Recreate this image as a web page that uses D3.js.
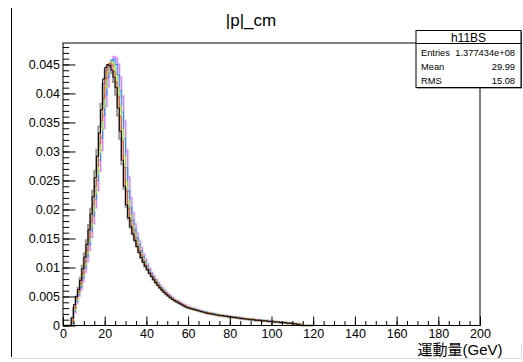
<!DOCTYPE html>
<html>
<head>
<meta charset="utf-8">
<script src="https://cdn.jsdelivr.net/npm/d3@7"></script>
<style>
  body { margin: 0; background: #fff; }
  text { font-family: "Liberation Sans", Arial, "Noto Sans CJK JP", sans-serif; fill: #000; }
</style>
</head>
<body>
<div id="chart"></div>
<script>
// |p|_cm histograms, 1 GeV bins starting at 0
const binWidth = 1;

const histBlack = [
  0, 0, 0, 0, .0013, .0036, .0050, .0062, .0078, .0098,
  .0118, .0140, .0165, .0192, .0222, .0255, .0292, .0332, .0372, .0425,
  .0445, .0450, .0448, .0440, .0428, .0410, .0375, .0335, .0285, .0240,
  .0208, .0186, .0170, .0158, .0147, .0136, .0126, .0117, .0109, .0102,
  .0096, .0090, .0084, .0079, .0074, .0069, .0065, .0061, .0057, .0054,
  .0051, .0048, .0045, .0043, .0041, .0039, .0037, .0035, .0033, .0031,
  .0030, .0029, .0028, .0027, .0026, .0025, .0024, .0023, .0022, .0021,
  .0020, .0020, .0019, .0018, .0018, .0017, .0017, .0016, .0016, .0015,
  .0015, .0014, .0014, .0013, .0013, .0012, .0012, .0011, .0011, .0010,
  .0010, .0010, .0009, .0009, .0009, .0008, .0008, .0008, .0007, .0007,
  .0007, .0006, .0006, .0006, .0005, .0005, .0005, .0004, .0004, .0004,
  .0003, .0003, .0002, .0001, 0, 0, 0, 0, 0, 0
];

const histGray = [
  0, 0, 0, 0, .0013, .0030, .0050, .0065, .0082, .0103,
  .0124, .0147, .0173, .0201, .0232, .0266, .0303, .0343, .0382, .0416,
  .0440, .0448, .0446, .0436, .0420, .0398, .0362, .0322, .0278, .0236,
  .0205, .0184, .0169, .0157, .0146, .0136, .0126, .0117, .0109, .0102,
  .0096, .0090, .0085, .0079, .0074, .0070, .0065, .0061, .0058, .0054,
  .0051, .0048, .0046, .0043, .0041, .0039, .0037, .0035, .0033, .0031,
  .0030, .0029, .0028, .0027, .0026, .0025, .0024, .0023, .0022, .0021,
  .0021, .0020, .0019, .0019, .0018, .0017, .0017, .0016, .0016, .0015,
  .0015, .0014, .0014, .0013, .0013, .0012, .0012, .0011, .0011, .0011,
  .0010, .0010, .0009, .0009, .0009, .0008, .0008, .0008, .0007, .0007,
  .0007, .0006, .0006, .0006, .0005, .0005, .0005, .0004, .0004, .0004,
  .0003, .0003, .0003, .0002, .0001, 0, 0, 0, 0, 0
];

const histRed = [
  0, 0, 0, 0, .0008, .0030, .0046, .0058, .0072, .0090,
  .0109, .0130, .0153, .0179, .0208, .0240, .0275, .0313, .0353, .0392,
  .0425, .0444, .0452, .0449, .0438, .0420, .0395, .0360, .0318, .0272,
  .0232, .0202, .0181, .0165, .0152, .0140, .0130, .0121, .0112, .0105,
  .0098, .0092, .0086, .0081, .0076, .0071, .0066, .0062, .0058, .0055,
  .0052, .0049, .0046, .0044, .0042, .0040, .0038, .0036, .0034, .0032,
  .0031, .0029, .0028, .0027, .0026, .0025, .0024, .0023, .0022, .0022,
  .0021, .0020, .0019, .0019, .0018, .0017, .0017, .0016, .0016, .0015,
  .0015, .0014, .0014, .0013, .0013, .0013, .0012, .0012, .0011, .0011,
  .0010, .0010, .0010, .0009, .0009, .0008, .0008, .0008, .0007, .0007,
  .0007, .0006, .0006, .0006, .0005, .0005, .0005, .0004, .0004, .0004,
  .0003, .0003, .0002, .0002, .0001, 0, 0, 0, 0, 0
];

const histGreen = [
  0, 0, 0, 0, .0006, .0027, .0044, .0056, .0069, .0086,
  .0104, .0124, .0146, .0171, .0198, .0228, .0262, .0298, .0337, .0376,
  .0410, .0436, .0451, .0455, .0448, .0432, .0410, .0378, .0338, .0292,
  .0248, .0214, .0190, .0172, .0158, .0145, .0134, .0124, .0115, .0107,
  .0100, .0093, .0087, .0082, .0077, .0072, .0067, .0063, .0059, .0055,
  .0052, .0049, .0046, .0044, .0042, .0040, .0038, .0036, .0034, .0032,
  .0031, .0030, .0028, .0027, .0026, .0025, .0024, .0023, .0022, .0022,
  .0021, .0020, .0019, .0019, .0018, .0018, .0017, .0016, .0016, .0015,
  .0015, .0014, .0014, .0014, .0013, .0013, .0012, .0012, .0011, .0011,
  .0011, .0010, .0010, .0009, .0009, .0009, .0008, .0008, .0007, .0007,
  .0007, .0006, .0006, .0006, .0005, .0005, .0005, .0004, .0004, .0004,
  .0003, .0003, .0003, .0002, .0001, 0, 0, 0, 0, 0
];

const histBlue = [
  0, 0, 0, 0, .0005, .0025, .0042, .0054, .0066, .0082,
  .0099, .0118, .0139, .0163, .0189, .0218, .0250, .0285, .0323, .0362,
  .0398, .0427, .0447, .0457, .0459, .0450, .0432, .0405, .0368, .0322,
  .0272, .0232, .0203, .0182, .0166, .0152, .0140, .0129, .0119, .0110,
  .0102, .0095, .0089, .0083, .0078, .0073, .0068, .0064, .0060, .0056,
  .0053, .0050, .0047, .0044, .0042, .0040, .0038, .0036, .0034, .0032,
  .0031, .0030, .0029, .0028, .0026, .0025, .0024, .0023, .0023, .0022,
  .0021, .0020, .0020, .0019, .0018, .0018, .0017, .0017, .0016, .0015,
  .0015, .0015, .0014, .0014, .0013, .0013, .0012, .0012, .0011, .0011,
  .0011, .0010, .0010, .0009, .0009, .0009, .0008, .0008, .0008, .0007,
  .0007, .0007, .0006, .0006, .0005, .0005, .0005, .0004, .0004, .0004,
  .0003, .0003, .0002, .0002, .0001, 0, 0, 0, 0, 0
];

const histMagenta = [
  0, 0, 0, 0, .0004, .0022, .0039, .0051, .0062, .0076,
  .0092, .0110, .0130, .0152, .0176, .0203, .0233, .0266, .0302, .0340,
  .0378, .0412, .0438, .0455, .0463, .0461, .0450, .0428, .0395, .0352,
  .0302, .0256, .0220, .0194, .0175, .0159, .0146, .0134, .0123, .0114,
  .0106, .0098, .0091, .0085, .0079, .0074, .0069, .0065, .0061, .0057,
  .0054, .0051, .0048, .0045, .0043, .0041, .0039, .0037, .0035, .0033,
  .0032, .0030, .0029, .0028, .0027, .0026, .0025, .0024, .0023, .0022,
  .0021, .0021, .0020, .0019, .0018, .0018, .0017, .0017, .0016, .0016,
  .0015, .0015, .0014, .0014, .0013, .0013, .0012, .0012, .0012, .0011,
  .0011, .0010, .0010, .0010, .0009, .0009, .0008, .0008, .0008, .0007,
  .0007, .0007, .0006, .0006, .0006, .0005, .0005, .0004, .0004, .0004,
  .0003, .0003, .0003, .0002, .0001, 0, 0, 0, 0, 0
];

const xTickLabels = [0, 20, 40, 60, 80, 100, 120, 140, 160, 180, 200];
const yTickValues = [0, 0.005, 0.01, 0.015, 0.02, 0.025, 0.03, 0.035, 0.04, 0.045];
const yTickLabels = ["0", "0.005", "0.01", "0.015", "0.02", "0.025", "0.03", "0.035", "0.04", "0.045"];
const statsRows = [["Entries", "1.377434e+08"], ["Mean", "29.99"], ["RMS", "15.08"]];

const width = 523, height = 362;
const frame = { left: 63, right: 480, top: 43, bottom: 325.5 };

const svg = d3.select('#chart').append('svg')
  .attr('width', width)
  .attr('height', height);

svg.append('rect').attr('width', width).attr('height', height).attr('fill', '#fff');

// outer canvas edges
svg.append('line').attr('x1', 11.5).attr('x2', 11.5).attr('y1', 8).attr('y2', 357)
  .attr('stroke', '#000').attr('stroke-width', 1);
svg.append('line').attr('x1', 11).attr('x2', 522).attr('y1', 358.5).attr('y2', 358.5)
  .attr('stroke', '#ddd').attr('stroke-width', 1);
svg.append('line').attr('x1', 521.5).attr('x2', 521.5).attr('y1', 345).attr('y2', 358)
  .attr('stroke', '#ddd').attr('stroke-width', 1);

const x = d3.scaleLinear().domain([0, 200]).range([frame.left, frame.right]);
const y = d3.scaleLinear().domain([0, 0.0487]).range([frame.bottom, frame.top]);

// histograms, drawn as step outlines
const stepLine = d3.line()
  .x(d => x(d[0]))
  .y(d => y(d[1]))
  .curve(d3.curveStepAfter);

function histPoints(values) {
  const pts = values.map((v, i) => [i * binWidth, v]);
  pts.push([values.length * binWidth, 0]);
  return pts;
}

const series = [
  { values: histGray, color: '#9a9a9a', width: 2.2, halo: null },
  { values: histMagenta, color: '#d580ff', width: 1.2, halo: '#f3d6ff' },
  { values: histBlue, color: '#3d8cf5', width: 1.1, halo: '#cfe3ff' },
  { values: histGreen, color: '#a6e03a', width: 1.1, halo: '#e8f8c8' },
  { values: histRed, color: '#f0463c', width: 1.0, halo: null },
  { values: histBlack, color: '#000', width: 1.0, halo: null }
];

const plot = svg.append('g').attr('class', 'hists');
series.forEach(s => {
  if (s.halo) {
    plot.append('path')
      .attr('d', stepLine(histPoints(s.values)))
      .attr('fill', 'none')
      .attr('stroke', s.halo)
      .attr('stroke-width', 3);
  }
});
series.forEach(s => {
  plot.append('path')
    .attr('d', stepLine(histPoints(s.values)))
    .attr('fill', 'none')
    .attr('stroke', s.color)
    .attr('stroke-width', s.width);
});

// frame
svg.append('rect')
  .attr('x', frame.left).attr('y', frame.top)
  .attr('width', frame.right - frame.left).attr('height', frame.bottom - frame.top)
  .attr('fill', 'none').attr('stroke', '#000').attr('stroke-width', 1);

// x axis: major ticks every 20, minor every 5, pointing inside
const xMinor = svg.append('g')
  .attr('transform', `translate(0,${frame.bottom})`)
  .call(d3.axisBottom(x).tickValues(d3.range(0, 201, 5)).tickSize(-4.5).tickFormat(''));
const xAxis = svg.append('g')
  .attr('transform', `translate(0,${frame.bottom})`)
  .call(d3.axisBottom(x).tickValues(xTickLabels).tickSize(-9).tickPadding(4).tickFormat(d => String(d)));

// y axis: major ticks every 0.005, minor every 0.001
const yMinor = svg.append('g')
  .attr('transform', `translate(${frame.left},0)`)
  .call(d3.axisLeft(y).tickValues(d3.range(0, 0.0485, 0.001)).tickSize(-6.2).tickFormat(''));
const yAxis = svg.append('g')
  .attr('transform', `translate(${frame.left},0)`)
  .call(d3.axisLeft(y).tickValues(yTickValues).tickSize(-12.5).tickPadding(3)
    .tickFormat((d, i) => yTickLabels[i]));

[xMinor, xAxis, yMinor, yAxis].forEach(g => {
  g.select('.domain').remove();
  g.selectAll('line').attr('stroke', '#000');
  g.selectAll('text').attr('font-size', 12.5).attr('fill', '#000');
});

// x axis title
svg.append('text')
  .attr('x', 502.5).attr('y', 355)
  .attr('text-anchor', 'end')
  .attr('font-size', 15)
  .text('運動量(GeV)');

// title
svg.append('text')
  .attr('x', 251).attr('y', 26)
  .attr('text-anchor', 'middle')
  .attr('font-size', 17)
  .text('|p|_cm');

// stats box
const box = { x: 416, y: 30.5, w: 105, h: 57 };
const stats = svg.append('g').attr('class', 'stats');
stats.append('rect')
  .attr('x', box.x + 1).attr('y', box.y + 1)
  .attr('width', box.w).attr('height', box.h)
  .attr('fill', '#555');
stats.append('rect')
  .attr('x', box.x).attr('y', box.y)
  .attr('width', box.w).attr('height', box.h)
  .attr('fill', '#fff').attr('stroke', '#000').attr('stroke-width', 1);
stats.append('line')
  .attr('x1', box.x).attr('x2', box.x + box.w)
  .attr('y1', 43.5).attr('y2', 43.5)
  .attr('stroke', '#000');
stats.append('text')
  .attr('x', box.x + box.w / 2).attr('y', 41.5)
  .attr('text-anchor', 'middle')
  .attr('font-size', 12)
  .text('h11BS');
statsRows.forEach((row, i) => {
  const yy = 55.6 + i * 14.4;
  stats.append('text')
    .attr('x', 421).attr('y', yy)
    .attr('font-size', 9.3)
    .text(row[0]);
  stats.append('text')
    .attr('x', 515).attr('y', yy)
    .attr('text-anchor', 'end')
    .attr('font-size', 9.3)
    .text(row[1]);
});
</script>
</body>
</html>
